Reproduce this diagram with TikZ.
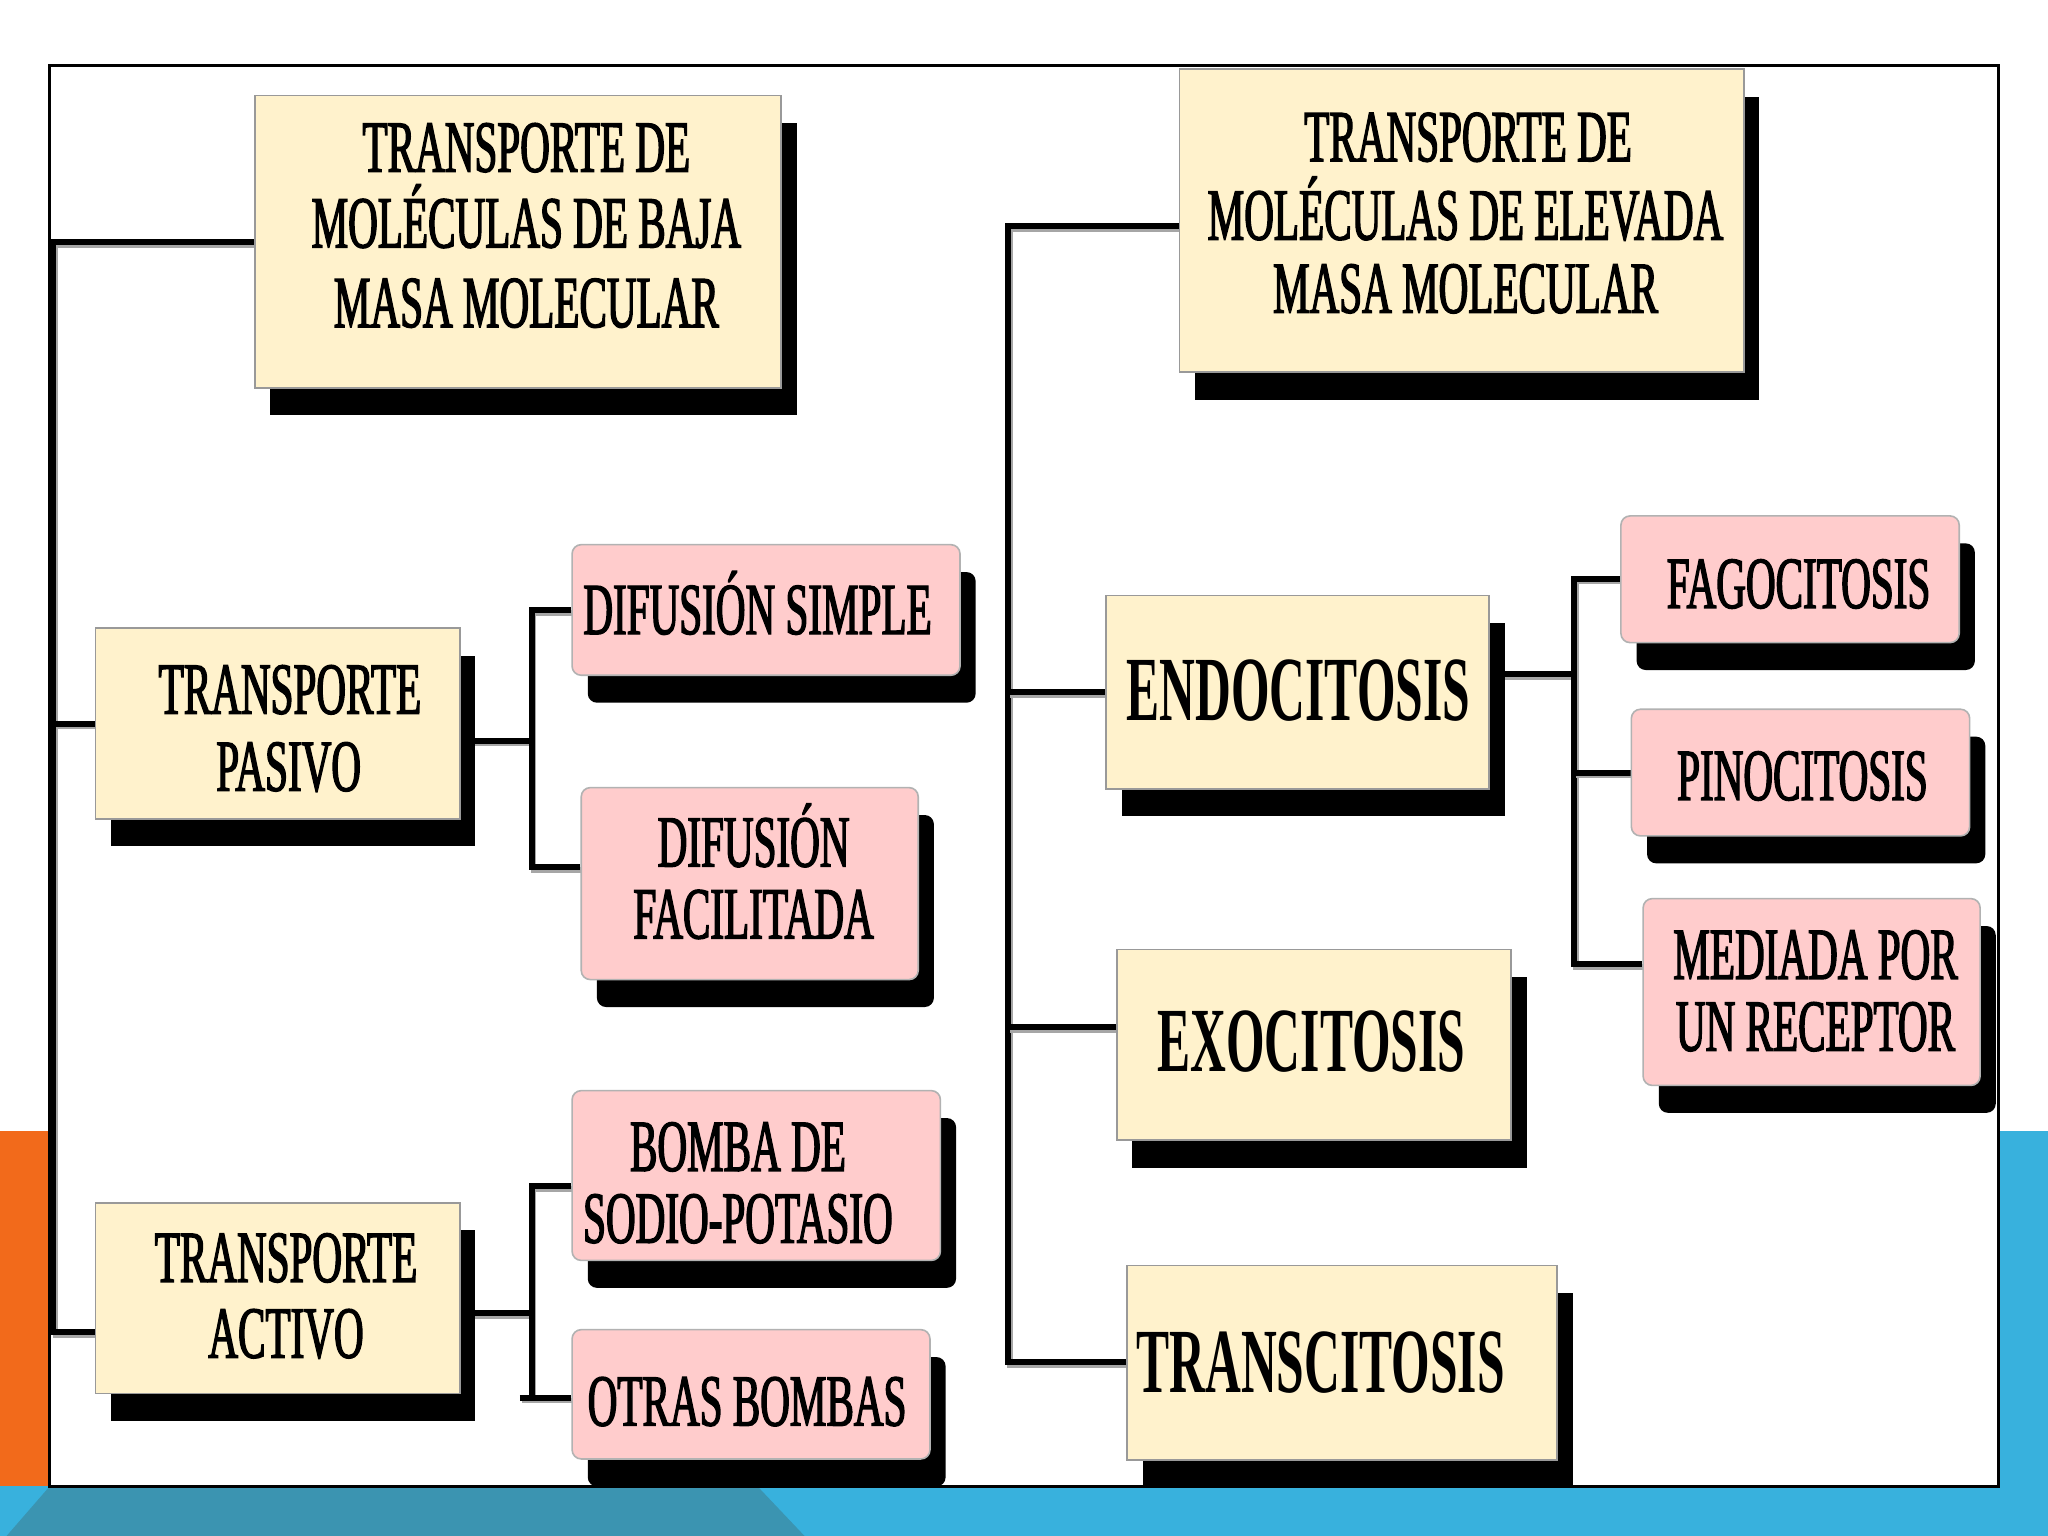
\documentclass[tikz,border=0pt]{standalone}
\usepackage{fontspec}
\setmainfont{Liberation Serif}
\newfontfamily\smallf{Liberation Serif}[FakeStretch=0.56,FakeBold=1.8]
\newfontfamily\bigf{Liberation Serif}[FakeStretch=0.54]
\usetikzlibrary{shadows,calc,fit}
\pgfdeclarelayer{back}
\pgfdeclarelayer{conns}
\pgfsetlayers{back,conns,main}
\definecolor{orng}{HTML}{F26A1B}
\definecolor{dteal}{HTML}{3B94B1}
\definecolor{lblue}{HTML}{38B1DD}
\definecolor{boxy}{HTML}{FFF2CC}
\definecolor{boxp}{HTML}{FFCCCC}
\tikzset{
  shd/.style={drop shadow={shadow xshift=0.24cm, shadow yshift=-0.42cm, opacity=1, fill=black}},
  ybox/.style={shd, fill=boxy, draw=black!40, line width=0.7pt, inner sep=0pt},
  pbox/.style={shd, fill=boxp, draw=black!30, line width=0.7pt, rounded corners=0.14cm, inner sep=0pt},
  txs/.style={font=\smallf\fontsize{32}{36}\selectfont, text height=21pt, text depth=0pt, inner sep=0pt},
  txb/.style={font=\bigf\bfseries\fontsize{40}{44}\selectfont, text height=26.5pt, text depth=0pt, inner sep=0pt},
  conn/.style={draw=black, line width=0.09cm, preaction={draw=black!35, line width=0.09cm, transform canvas={shift={(0.03cm,-0.045cm)}}}}
}
\begin{document}
\begin{tikzpicture}[x=0.02cm, y=-0.02cm]
\useasboundingbox (0,0) rectangle (1568,1176);
% background
\begin{pgfonlayer}{back}
\fill[white] (0,0) rectangle (1568,1176);
\fill[orng] (0,866) -- (38,866) -- (38,1138) -- (5,1176) -- (0,1176) -- cycle;
\fill[lblue] (1530,866) rectangle (1568,1176);
\fill[lblue] (0,1138) rectangle (1568,1176);
\fill[dteal] (5,1176) -- (38,1138) -- (580,1138) -- (616,1176) -- cycle;
\draw[black, line width=0.045cm, fill=white] (38,50) rectangle (1530,1138);
\end{pgfonlayer}

% junction coordinates
\coordinate (jL1) at (41,185);
\coordinate (jL3) at (41,1020);
\coordinate (p0) at (407,567);
\coordinate (p2) at (407,664);
\coordinate (a0) at (407,1005);
\coordinate (a1) at (407,908);
\coordinate (a2) at (398,1070);
\coordinate (r1) at (772,173);
\coordinate (r3) at (772,786);
\coordinate (r4) at (772,1043);
\coordinate (e0) at (1205,516);
\coordinate (e1) at (1205,443);
\coordinate (e3) at (1205,738);

% boxes
\node[ybox, fit={(195,73) (598,297)}] (b1) {};
\node[ybox, fit={(903,53) (1335,285)}] (b2) {};
\node[ybox, fit={(73,481) (352,627)}] (b3) {};
\node[ybox, fit={(73,921) (352,1067)}] (b4) {};
\node[pbox, fit={(438,417) (735,517)}] (b5) {};
\node[pbox, fit={(445,603) (703,750)}] (b6) {};
\node[pbox, fit={(438,835) (720,965)}] (b7) {};
\node[pbox, fit={(438,1018) (712,1117)}] (b8) {};
\node[ybox, fit={(847,456) (1140,604)}] (b9) {};
\node[ybox, fit={(855,727) (1157,873)}] (b10) {};
\node[ybox, fit={(863,969) (1192,1118)}] (b11) {};
\node[pbox, fit={(1241,395) (1500,492)}] (b12) {};
\node[pbox, fit={(1249,543) (1508,640)}] (b13) {};
\node[pbox, fit={(1258,688) (1516,831)}] (b14) {};

% connectors (behind the boxes)
\begin{pgfonlayer}{conns}
\draw[conn] (b1.west) -| (jL3) -- (jL3 -| b4.west);
\draw[conn] (b3.west -| jL1) -- (b3.west);
\draw[conn] (b3.east |- p0) -- (p0);
\draw[conn] (b5.west) -| (p2) -- (p2 -| b6.west);
\draw[conn] (b4.east |- a0) -- (a0);
\draw[conn] (b7.west |- a1) -- (a1) -- (a1 |- a2);
\draw[conn] (a2) -- (a2 -| b8.west);
\draw[conn] (b2.west |- r1) -- (r1) -- (r4) -- (r4 -| b11.west);
\draw[conn] (b9.west -| r1) -- (b9.west);
\draw[conn] (r3) -- (r3 -| b10.west);
\draw[conn] (b9.east |- e0) -- (e0);
\draw[conn] (e1 -| b12.west) -- (e1) -- (e3) -- (e3 -| b14.west);
\draw[conn] (b13.west -| e1) -- (b13.west);
\end{pgfonlayer}

% texts
\node[txs] (t1a) at (403,113) {TRANSPORTE DE};
\node[txs] (t1b) at (403,171) {MOLÉCULAS DE BAJA};
\node[txs] (t1c) at (403,232) {MASA MOLECULAR};
\node[txs] (t2a) at (1124,105) {TRANSPORTE DE};
\node[txs] (t2b) at (1122,165) {MOLÉCULAS DE ELEVADA};
\node[txs] (t2c) at (1122,221) {MASA MOLECULAR};
\node[txs] (t3a) at (222,528) {TRANSPORTE};
\node[txs] (t3b) at (221,587) {PASIVO};
\node[txs] (t4a) at (219,963) {TRANSPORTE};
\node[txs] (t4b) at (219,1021) {ACTIVO};
\node[txs] (t5) at (580,467) {DIFUSIÓN SIMPLE};
\node[txs] (t6a) at (577,645) {DIFUSIÓN};
\node[txs] (t6b) at (577,700) {FACILITADA};
\node[txs] (t7a) at (565,878) {BOMBA DE};
\node[txs] (t7b) at (565,933) {SODIO-POTASIO};
\node[txs] (t8) at (572,1073) {OTRAS BOMBAS};
\node[txb] (t9) at (994,528) {ENDOCITOSIS};
\node[txb] (t10) at (1004,797) {EXOCITOSIS};
\node[txb] (t11) at (1011,1043) {TRANSCITOSIS};
\node[txs] (t12) at (1377,447) {FAGOCITOSIS};
\node[txs] (t13) at (1380,594) {PINOCITOSIS};
\node[txs] (t14a) at (1390,731) {MEDIADA POR};
\node[txs] (t14b) at (1390,786) {UN RECEPTOR};
\end{tikzpicture}
\end{document}
